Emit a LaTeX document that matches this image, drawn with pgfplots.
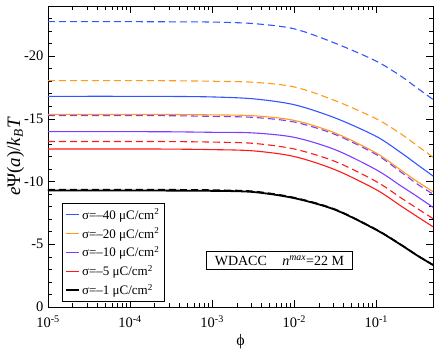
\documentclass[border=0pt]{standalone}
\usepackage{pgfplots}
\pgfplotsset{compat=1.18}
\usepackage{fontspec}
\setmainfont{Liberation Serif}
\definecolor{cblue}{RGB}{51,85,255}
\definecolor{corange}{RGB}{255,155,25}
\definecolor{cpurple}{RGB}{125,60,255}
\definecolor{cred}{RGB}{255,25,25}
\begin{document}
\begin{tikzpicture}
\begin{axis}[
  name=ax,
  scale only axis,
  width=385pt, height=301pt,
  xmode=log,
  xmin=1e-5, xmax=0.49,
  ymin=-24, ymax=0,
  y dir=reverse,
  xtick={1e-5,1e-4,1e-3,1e-2,1e-1},
  xticklabels={10\textsuperscript{-5},10\textsuperscript{-4},10\textsuperscript{-3},10\textsuperscript{-2},10\textsuperscript{-1}},
  ytick={0,-5,-10,-15,-20},
  yticklabels={0,-5,-10,-15,-20},
  minor ytick={-1,-2,-3,-4,-6,-7,-8,-9,-11,-12,-13,-14,-16,-17,-18,-19,-21,-22,-23},
  tick align=inside,
  tick pos=both,
  major tick length=7pt,
  minor tick length=4pt,
  every tick/.style={black, line width=0.6pt},
  axis line style={line width=0.8pt},
  ticklabel style={font=\fontsize{14.5}{16}\selectfont},
  xticklabel style={yshift=-5pt},
  yticklabel style={xshift=-1pt},
  xlabel={ϕ},
  xlabel style={font=\fontsize{16}{17}\selectfont, yshift=0pt},
  ylabel={\textit{e}Ψ(\textit{a})/\textit{k}\textsubscript{\textit{B}}\textit{T}},
  ylabel style={font=\fontsize{19}{20}\selectfont, yshift=-7pt},
  legend style={at={(0.036,0.018)}, anchor=south west, line width=0.8pt,
    font=\fontsize{13}{14}\selectfont, row sep=3pt, inner xsep=3pt, inner ysep=3pt},
  legend cell align=left,
  legend image code/.code={\draw[#1] (0pt,0pt) -- (13pt,0pt);},
]
% solid lines
\addplot[cblue, line width=1.1pt, smooth] coordinates {
(1e-5,-16.8) (1e-4,-16.8) (3.16e-4,-16.79) (1e-3,-16.75) (3.16e-3,-16.6) (0.01,-16.13) (0.0316,-15.07) (0.1,-13.6) (0.2,-12.3) (0.316,-11.35) (0.49,-10.45)};
\addlegendentry{σ=–40 μC/cm\textsuperscript{2}}
\addplot[corange, line width=1.1pt, smooth] coordinates {
(1e-5,-15.36) (1e-4,-15.36) (3.16e-4,-15.35) (1e-3,-15.32) (3.16e-3,-15.25) (0.01,-14.88) (0.0316,-13.87) (0.1,-12.27) (0.2,-10.9) (0.316,-10.0) (0.49,-9.2)};
\addlegendentry{σ=–20 μC/cm\textsuperscript{2}}
\addplot[cpurple, line width=1.1pt, smooth] coordinates {
(1e-5,-13.98) (1e-4,-13.98) (3.16e-4,-13.97) (1e-3,-13.93) (3.16e-3,-13.88) (0.01,-13.53) (0.0316,-12.54) (0.1,-10.94) (0.2,-9.65) (0.316,-8.8) (0.49,-7.95)};
\addlegendentry{σ=–10 μC/cm\textsuperscript{2}}
\addplot[cred, line width=1.1pt, smooth] coordinates {
(1e-5,-12.6) (1e-4,-12.6) (3.16e-4,-12.59) (1e-3,-12.55) (3.16e-3,-12.45) (0.01,-12.0) (0.0316,-10.94) (0.1,-9.35) (0.2,-8.05) (0.316,-7.2) (0.49,-6.4)};
\addlegendentry{σ=–5 μC/cm\textsuperscript{2}}
\addplot[black, line width=1.8pt, smooth] coordinates {
(1e-5,-9.29) (1e-4,-9.29) (3.16e-4,-9.28) (1e-3,-9.26) (3.16e-3,-9.17) (0.01,-8.68) (0.0316,-7.75) (0.1,-6.15) (0.2,-4.95) (0.316,-4.1) (0.49,-3.35)};
\addlegendentry{σ=–1 μC/cm\textsuperscript{2}}
% dashed lines
\addplot[cblue, line width=1.1pt, smooth, dash pattern=on 7pt off 4pt, forget plot] coordinates {
(1e-5,-22.75) (1e-4,-22.75) (3.16e-4,-22.74) (1e-3,-22.72) (3.16e-3,-22.6) (0.01,-22.18) (0.0316,-21.03) (0.1,-19.6) (0.2,-18.4) (0.316,-17.45) (0.49,-16.55)};
\addplot[corange, line width=1.1pt, smooth, dash pattern=on 7pt off 4pt, forget plot] coordinates {
(1e-5,-18.05) (1e-4,-18.05) (3.16e-4,-18.04) (1e-3,-18.0) (3.16e-3,-17.92) (0.01,-17.55) (0.0316,-16.45) (0.1,-15.0) (0.2,-13.8) (0.316,-12.85) (0.49,-11.95)};
\addplot[cpurple, line width=1.1pt, smooth, dash pattern=on 7pt off 4pt, forget plot] coordinates {
(1e-5,-15.26) (1e-4,-15.26) (3.16e-4,-15.25) (1e-3,-15.2) (3.16e-3,-15.12) (0.01,-14.75) (0.0316,-13.75) (0.1,-12.15) (0.2,-10.75) (0.316,-9.8) (0.49,-9.0)};
\addplot[cred, line width=1.1pt, smooth, dash pattern=on 7pt off 4pt, forget plot] coordinates {
(1e-5,-13.2) (1e-4,-13.2) (3.16e-4,-13.19) (1e-3,-13.15) (3.16e-3,-13.05) (0.01,-12.6) (0.0316,-11.6) (0.1,-10.0) (0.2,-8.7) (0.316,-7.85) (0.49,-7.05)};
\addplot[black, line width=1.6pt, smooth, dash pattern=on 7pt off 4pt, forget plot] coordinates {
(1e-5,-9.36) (1e-4,-9.36) (3.16e-4,-9.35) (1e-3,-9.32) (3.16e-3,-9.22) (0.01,-8.72) (0.0316,-7.78) (0.1,-6.17) (0.2,-4.97) (0.316,-4.11) (0.49,-3.36)};
\node[draw=black, line width=0.8pt, fill=white, inner xsep=8.5pt, inner ysep=4pt,
  font=\fontsize{14}{15}\selectfont] at (rel axis cs:0.601,0.1545)
  {WDACC\hspace{1.1em}\textit{n}\textsuperscript{\textit{max}}=22 M};
\end{axis}
\pgfresetboundingbox
\path (-48pt,-42pt) rectangle (393pt,307pt);
\end{tikzpicture}
\end{document}
